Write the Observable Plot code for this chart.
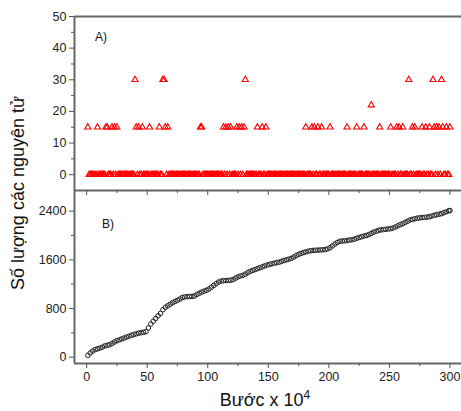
<!DOCTYPE html>
<html>
<head>
<meta charset="utf-8">
<script src="https://cdn.jsdelivr.net/npm/d3@7"></script>
<script src="https://cdn.jsdelivr.net/npm/@observablehq/plot@0.6"></script>
<style>
  html, body { margin: 0; padding: 0; background: #fff; }
  #chart { position: relative; width: 461px; height: 411px; font-family: "Liberation Sans", Arial, sans-serif; overflow: hidden; }
  #chart > div.p { position: absolute; left: 0; }
  .lbl { position: absolute; color: #111; font-family: "Liberation Sans", Arial, sans-serif; white-space: nowrap; }
</style>
</head>
<body>
<div id="chart"></div>
<script>
// ---- Panel A: steps (x 10^4) at which a non-zero number of atoms was observed
const steps15 = [1, 9, 16, 17, 21, 23, 25, 41, 43, 46, 52, 60, 65, 67, 94, 95, 113, 115, 117, 119, 124, 126, 128, 130, 141, 145, 148, 181, 186, 188, 191, 194, 201, 215, 223, 229, 242, 251, 256, 258, 261, 269, 271, 277, 280, 283, 287, 289, 291, 294, 297, 300];
const steps30 = [40, 63, 64, 131, 266, 286, 293];
const steps22 = [235];
const lastStep = 300;

// ---- Panel B: cumulative number of atoms, sampled every 2 steps (x = 1, 3, ..., 299)
const cumSteps = d3.range(1, 300, 2);
const cumValues = [30, 70, 100, 125, 138, 150, 165, 185, 195, 205, 225, 250, 270, 285, 300, 315, 330, 345, 360, 372,
  385, 395, 402, 408, 420, 480, 545, 590, 635, 680, 720, 780, 820, 845, 870, 895, 915, 935, 955, 980,
  990, 995, 998, 1000, 1005, 1030, 1050, 1070, 1085, 1100, 1120, 1150, 1180, 1210, 1235, 1250, 1258, 1260, 1262, 1265,
  1275, 1300, 1320, 1335, 1345, 1365, 1390, 1410, 1425, 1440, 1455, 1470, 1485, 1500, 1515, 1525, 1535, 1545, 1555, 1562,
  1575, 1590, 1600, 1612, 1625, 1645, 1670, 1690, 1705, 1720, 1730, 1742, 1750, 1755, 1758, 1760, 1762, 1765, 1770, 1780,
  1800, 1830, 1860, 1885, 1905, 1910, 1912, 1918, 1925, 1930, 1940, 1955, 1968, 1980, 1992, 2000, 2015, 2035, 2055, 2070,
  2085, 2092, 2098, 2102, 2108, 2112, 2125, 2140, 2160, 2180, 2195, 2215, 2235, 2255, 2265, 2275, 2285, 2290, 2295, 2298,
  2302, 2310, 2320, 2332, 2342, 2350, 2360, 2375, 2390, 2408];

// ---- Ticks
const xMajor = [0, 50, 100, 150, 200, 250, 300];
const xMinor = [25, 75, 125, 175, 225, 275];
const aMajor = [0, 10, 20, 30, 40, 50];
const aMinor = [5, 15, 25, 35, 45];
const bMajor = [0, 800, 1600, 2400];
const bMinor = [400, 1200, 2000];

// ---- Texts
const yTitle = "Số lượng các nguyên tử";
const xTitleMain = "Bước x 10";
const xTitleSup = "4";
const labelA = "A)";
const labelB = "B)";

// build tables
const special = new Map();
steps15.forEach(s => special.set(s, 15));
steps30.forEach(s => special.set(s, 30));
steps22.forEach(s => special.set(s, 22));
const panelA = d3.range(1, lastStep + 1).map(s => ({step: s, count: special.has(s) ? special.get(s) : 0}));
const panelB = cumSteps.map((s, i) => ({step: s, total: cumValues[i]}));
panelB.push({step: 300, total: 2411});

const axisColor = "#666";
const tickColor = "#555";
const fs = 12.5;
const xDomain = [-10, 309.5];
const plain = d => String(d);

const common = {
  width: 461,
  marginLeft: 74,
  marginRight: 0,
  style: {background: "transparent", overflow: "visible", fontFamily: "Liberation Sans, Arial, sans-serif"}
};

const plotA = Plot.plot({
  ...common,
  height: 190,
  marginTop: 16,
  marginBottom: 0,
  x: {domain: xDomain, axis: null},
  y: {domain: [-5, 50], axis: null},
  marks: [
    Plot.dot(panelA, {x: "step", y: "count", symbol: "triangle", r: 2.3, stroke: "#ff0000", fill: "none", strokeWidth: 1.1}),
    Plot.ruleY([50], {stroke: axisColor, strokeWidth: 2}),
    Plot.ruleX([-10], {stroke: axisColor, strokeWidth: 2}),
    Plot.axisY(aMajor, {anchor: "left", tickSize: 5, tickPadding: 3, fontSize: fs, stroke: tickColor, fill: "#222", label: null, tickFormat: plain}),
    Plot.axisY(aMinor, {anchor: "left", tickSize: 3, tickFormat: () => "", stroke: tickColor, label: null}),
    Plot.axisX(xMajor, {anchor: "bottom", tickSize: 5, tickFormat: () => "", stroke: tickColor, label: null}),
    Plot.axisX(xMinor, {anchor: "bottom", tickSize: 3, tickFormat: () => "", stroke: tickColor, label: null})
  ]
});

const plotB = Plot.plot({
  ...common,
  height: 173,
  marginTop: 0,
  marginBottom: 0,
  x: {domain: xDomain, axis: null},
  y: {domain: [-104, 2740], axis: null},
  marks: [
    Plot.dot(panelB, {x: "step", y: "total", r: 2.3, stroke: "#222", fill: "none", strokeWidth: 1}),
    Plot.ruleY([-104], {stroke: axisColor, strokeWidth: 2}),
    Plot.ruleY([2740], {stroke: axisColor, strokeWidth: 2}),
    Plot.ruleX([-10], {stroke: axisColor, strokeWidth: 2}),
    Plot.axisY(bMajor, {anchor: "left", tickSize: 5, tickPadding: 3, fontSize: fs, stroke: tickColor, fill: "#222", label: null, tickFormat: plain}),
    Plot.axisY(bMinor, {anchor: "left", tickSize: 3, tickFormat: () => "", stroke: tickColor, label: null}),
    Plot.axisX(xMajor, {anchor: "bottom", tickSize: 5, tickPadding: 4, fontSize: fs, stroke: tickColor, fill: "#222", label: null, tickFormat: plain}),
    Plot.axisX(xMinor, {anchor: "bottom", tickSize: 3, tickFormat: () => "", stroke: tickColor, label: null})
  ]
});

const chart = document.getElementById("chart");
const bWrap = document.createElement("div");
bWrap.className = "p"; bWrap.style.top = "190px";
bWrap.appendChild(plotB);
chart.appendChild(bWrap);
const tWrap = document.createElement("div");
tWrap.className = "p"; tWrap.style.top = "0px";
tWrap.appendChild(plotA);
chart.appendChild(tWrap);

function addLabel(text, css) {
  const d = document.createElement("div");
  d.className = "lbl";
  d.textContent = text;
  Object.assign(d.style, css);
  chart.appendChild(d);
  return d;
}
addLabel(labelA, {left: "95px", top: "30px", fontSize: "12px"});
addLabel(labelB, {left: "102px", top: "217px", fontSize: "12px"});

addLabel(yTitle, {fontSize: "18px", left: "18px", top: "193px", transform: "translate(-50%, -50%) rotate(-90deg)", lineHeight: "1"});

const xt = document.createElement("div");
xt.className = "lbl";
xt.style.fontSize = "18px";
xt.style.lineHeight = "1";
xt.style.left = "265px";
xt.style.top = "391px";
xt.style.transform = "translateX(-50%)";
xt.append(xTitleMain);
const sup = document.createElement("sup");
sup.textContent = xTitleSup;
sup.style.fontSize = "12px";
sup.style.verticalAlign = "7px";
sup.style.lineHeight = "0";
xt.appendChild(sup);
chart.appendChild(xt);
</script>
</body>
</html>
